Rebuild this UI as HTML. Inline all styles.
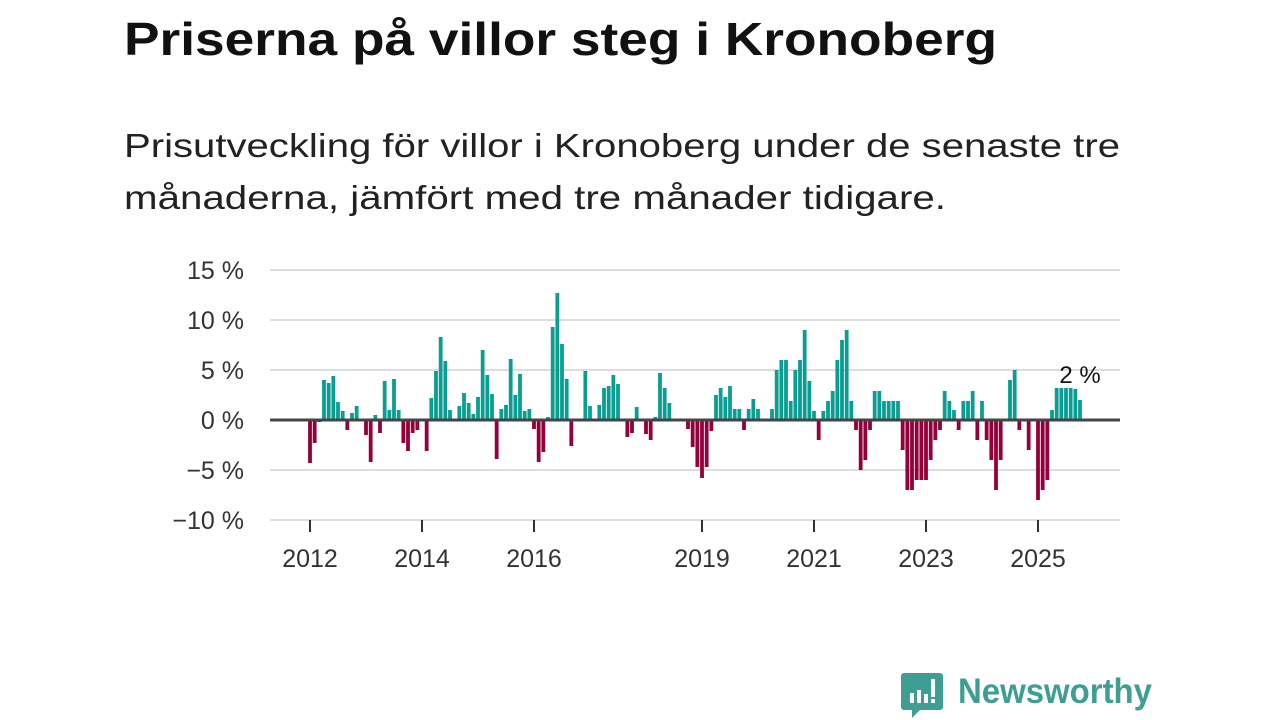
<!DOCTYPE html>
<html><head><meta charset="utf-8"><style>
body{margin:0;width:1280px;height:720px;background:#fff;overflow:hidden;font-family:"Liberation Sans","DejaVu Sans",sans-serif;}
svg{position:absolute;left:0;top:0}
</style></head><body>
<svg id="chart" width="1280" height="720">
<text x="124" y="55" font-size="46" font-weight="bold" fill="#111" textLength="873" lengthAdjust="spacingAndGlyphs">Priserna på villor steg i Kronoberg</text>
<g>
<text x="124" y="157" font-size="33" fill="#222" textLength="996" lengthAdjust="spacingAndGlyphs">Prisutveckling för villor i Kronoberg under de senaste tre</text>
<text x="124" y="209" font-size="33" fill="#222" textLength="822" lengthAdjust="spacingAndGlyphs">månaderna, jämfört med tre månader tidigare.</text>
</g>
<g id="grid"></g><g id="bars"></g><g id="axes"></g>
<g>
<path d="M904 673 h36 a3 3 0 0 1 3 3 v31 a3 3 0 0 1 -3 3 h-20 l-8 8 v-8 h-8 a3 3 0 0 1 -3 -3 v-31 a3 3 0 0 1 3 -3z" fill="#3e9e93"/>
<rect x="910" y="693" width="4" height="10" fill="#fff"/><rect x="917" y="690" width="4" height="13" fill="#fff"/><rect x="924" y="694" width="4" height="9" fill="#fff"/><rect x="931" y="679" width="4" height="18" fill="#fff"/><rect x="931" y="699" width="4" height="4" fill="#fff"/>
<text x="958" y="703" font-size="35" font-weight="bold" fill="#3e9e93" textLength="194" lengthAdjust="spacingAndGlyphs">Newsworthy</text>
</g>
</svg>
<script>
const yTicks=[15,10,5,0,-5,-10];
const yTickLabels=["15 %","10 %","5 %","0 %","−5 %","−10 %"];
const xTickYears=[2012,2014,2016,2019,2021,2023,2025];
const startYear=2012;
const values=[-4.3,-2.3,-0.2,4.0,3.7,4.4,1.8,0.9,-1.0,0.7,1.4,0,
-1.5,-4.2,0.5,-1.3,3.9,1.0,4.1,1.0,-2.3,-3.1,-1.3,-1.0,
0,-3.1,2.2,4.9,8.3,5.9,1.0,0,1.4,2.7,1.7,0.6,
2.3,7.0,4.5,2.6,-3.9,1.1,1.5,6.1,2.5,4.6,0.9,1.1,
-0.9,-4.2,-3.2,0.3,9.3,12.7,7.6,4.1,-2.6,0.1,0,4.9,
1.4,0,1.5,3.2,3.4,4.5,3.6,0.1,-1.7,-1.3,1.3,0,
-1.4,-2.0,0.3,4.7,3.2,1.7,0,0.1,0,-0.9,-2.7,-4.7,
-5.8,-4.7,-1.1,2.5,3.2,2.3,3.4,1.1,1.1,-1.0,1.1,2.1,
1.1,0,0,1.1,5.0,6.0,6.0,1.9,5.0,6.0,9.0,3.9,
0.9,-2.0,0.9,1.9,2.9,6.0,8.0,9.0,1.9,-1.0,-5.0,-4.0,
-1.0,2.9,2.9,1.9,1.9,1.9,1.9,-3.0,-7.0,-7.0,-6.0,-6.0,
-6.0,-4.0,-2.0,-1.0,2.9,1.9,1.0,-1.0,1.9,1.9,2.9,-2.0,
1.9,-2.0,-4.0,-7.0,-4.0,0,4.0,5.0,-1.0,0,-3.0,0,
-8.0,-7.0,-6.0,1.0,3.2,3.2,3.2,3.2,3.1,2.0];
const lastLabel="2 %";
const NS="http://www.w3.org/2000/svg";
const y=v=>420-v*10;
const x=m=>310+m*56/12;
function mk(tag,attrs,parent){const e=document.createElementNS(NS,tag);for(const k in attrs)e.setAttribute(k,attrs[k]);parent.appendChild(e);return e;}
const grid=document.getElementById('grid'),bars=document.getElementById('bars'),axes=document.getElementById('axes');
yTicks.forEach((t,i)=>{
 if(t!==0){const l=mk('line',{x1:270,x2:1120,y1:y(t),y2:y(t),stroke:'#ddd','stroke-width':2},grid);
 
 }
 const tx=mk('text',{x:244,y:y(t)+9,'text-anchor':'end','font-size':25,fill:'#333'},axes);
 tx.textContent=yTickLabels[i];
 
 
});
values.forEach((v,m)=>{
 if(v===0)return;
 const r=mk('rect',{x:x(m)-1.9,width:3.8,y:v>0?y(v):420,height:Math.abs(v)*10,fill:v>0?'#0a9e92':'#96003a'},bars);
 
 
});
const zl=mk('line',{x1:270,x2:1120,y1:420,y2:420,stroke:'#444','stroke-width':3},axes);


xTickYears.forEach(yr=>{
 const m=(yr-startYear)*12;
 const tk=mk('line',{x1:x(m),x2:x(m),y1:520,y2:532,stroke:'#333','stroke-width':2},axes);
 
 
 const tx=mk('text',{x:x(m),y:567,'text-anchor':'middle','font-size':25,fill:'#333'},axes);
 tx.textContent=yr;
 
 
});
const lm=values.length-1;
const lb=mk('text',{x:x(lm),y:383,'text-anchor':'middle','font-size':24,fill:'#111'},axes);
lb.textContent=lastLabel;


</script>
</body></html>
